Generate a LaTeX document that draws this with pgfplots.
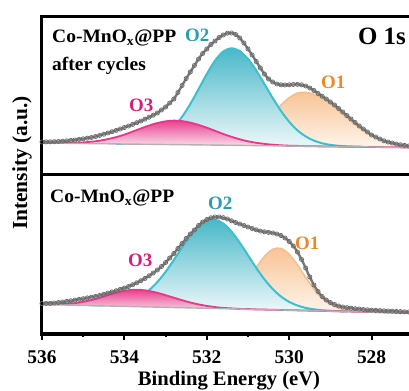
\documentclass[border=0pt]{standalone}
\usepackage{fontspec}
\setmainfont{Liberation Serif}
\usepackage{graphicx}
\usepackage{pgfplots}
\pgfplotsset{compat=1.18}
\usepackage{pgfplotstable}

\definecolor{cOone}{HTML}{F3BE8E}
\definecolor{cOonef}{HTML}{F8C496}
\definecolor{cOoneb}{HTML}{FEF5EC}
\definecolor{cOtwo}{HTML}{3DBFCF}
\definecolor{cOtwof}{HTML}{4AB8C8}
\definecolor{cOtwob}{HTML}{EEF8FA}
\definecolor{cOthree}{HTML}{E6378B}
\definecolor{cOthreef}{HTML}{E8428E}
\definecolor{cOthreeb}{HTML}{FCE8F1}
\definecolor{tOone}{HTML}{E8892B}
\definecolor{tOtwo}{HTML}{2A9DB0}
\definecolor{tOthree}{HTML}{D21F7A}
\definecolor{env}{HTML}{7A7A7A}

% ---------------- upper panel (after cycles) ----------------
\pgfplotstableread{
x y
536.0 33.0
535.9 33.1
535.8 33.2
535.7 33.3
535.6 33.5
535.5 33.8
535.4 34.2
535.3 34.6
535.2 35.0
535.1 35.6
535.0 36.2
534.9 36.8
534.8 37.5
534.7 38.5
534.6 39.6
534.5 40.8
534.4 42.0
534.3 43.3
534.2 44.6
534.1 46.0
534.0 47.5
533.9 49.0
533.8 50.6
533.7 52.3
533.6 54.0
533.5 55.8
533.4 57.8
533.3 59.8
533.2 62.0
533.1 65.0
533.0 68.0
532.9 72.0
532.8 76.0
532.7 82.5
532.6 89.5
532.5 96.5
532.4 103.0
532.3 109.5
532.2 116.0
532.1 121.5
532.0 126.0
531.9 130.5
531.8 134.0
531.7 137.5
531.6 140.0
531.5 141.8
531.4 142.0
531.3 140.5
531.2 137.0
531.1 132.0
531.0 126.0
530.9 120.0
530.8 113.5
530.7 107.0
530.6 101.0
530.5 96.0
530.4 93.0
530.3 91.0
530.2 90.2
530.1 90.0
530.0 90.2
529.9 90.5
529.8 90.6
529.7 90.2
529.6 89.0
529.5 87.0
529.4 84.5
529.3 81.5
529.2 78.8
529.1 76.0
529.0 73.0
528.9 70.0
528.8 66.5
528.7 63.0
528.6 59.5
528.5 56.0
528.4 52.5
528.3 49.0
528.2 46.0
528.1 43.0
528.0 40.0
527.9 38.0
527.8 36.0
527.7 34.2
527.6 33.0
527.5 32.0
527.4 31.0
527.3 30.2
527.2 29.6
527.1 29.0
527.0 28.6
}\uEnv

\pgfplotstableread{
x y
536.0 32.0
535.8 32.0
535.6 32.0
535.4 32.0
535.2 32.2
535.0 32.6
534.8 33.3
534.6 34.3
534.4 35.9
534.2 37.9
534.0 40.4
533.8 43.4
533.6 46.5
533.4 49.5
533.2 52.0
533.0 53.7
532.8 54.4
532.6 53.9
532.4 52.4
532.2 50.1
532.0 47.3
531.8 44.2
531.6 41.0
531.4 38.2
531.2 35.7
531.0 33.7
530.8 32.2
530.6 31.1
530.4 30.3
530.2 29.7
530.0 29.3
529.8 29.1
529.6 28.9
529.4 28.7
526.6 27.3
}\uOthree

\pgfplotstableread{
x y
534.2 31.1
534.0 31.3
533.8 31.6
533.6 32.3
533.4 33.7
533.2 36.5
533.0 41.1
532.8 48.2
532.6 58.2
532.4 71.0
532.2 85.8
532.0 101.0
531.8 114.4
531.6 123.5
531.4 126.7
531.2 123.9
531.0 116.1
530.8 104.6
530.6 90.9
530.4 77.0
530.2 64.1
530.0 53.2
529.8 44.7
529.6 38.6
529.4 34.4
529.2 31.7
529.0 30.1
528.8 29.2
528.6 28.7
528.4 28.4
528.2 28.1
}\uOtwo

\pgfplotstableread{
x y
532.0 30.3
531.8 30.5
531.6 31.2
531.4 32.6
531.2 35.1
531.0 39.0
530.8 44.8
530.6 52.3
530.4 61.0
530.2 69.9
530.0 77.3
529.8 81.9
529.6 82.7
529.4 80.7
529.2 76.6
529.0 70.9
528.8 64.2
528.6 57.3
528.4 50.6
528.2 44.7
528.0 39.7
527.8 35.8
527.6 32.9
527.4 30.9
527.2 29.5
527.0 28.6
526.8 28.0
526.6 27.6
}\uOone

\pgfplotstableread{
x y
536.0 32.0
526.6 27.3
}\uBase

% ---------------- lower panel (pristine) ----------------
\pgfplotstableread{
x y
536.0 30.5
535.9 30.6
535.8 30.7
535.7 31.0
535.6 31.5
535.5 32.0
535.4 32.6
535.3 33.2
535.2 33.9
535.1 34.6
535.0 35.3
534.9 36.1
534.8 36.8
534.7 37.6
534.6 38.6
534.5 39.7
534.4 40.9
534.3 42.1
534.2 43.3
534.1 44.6
534.0 46.0
533.9 47.5
533.8 49.3
533.7 51.2
533.6 53.3
533.5 55.6
533.4 58.2
533.3 61.0
533.2 64.0
533.1 67.5
533.0 71.5
532.9 76.0
532.8 80.5
532.7 85.5
532.6 90.5
532.5 95.5
532.4 100.0
532.3 104.0
532.2 108.5
532.1 112.0
532.0 114.5
531.9 116.2
531.8 117.0
531.7 117.0
531.6 116.3
531.5 115.0
531.4 113.2
531.3 111.5
531.2 110.0
531.1 108.5
531.0 107.0
530.9 105.5
530.8 104.2
530.7 103.0
530.6 102.2
530.5 101.6
530.4 101.0
530.3 100.0
530.2 98.5
530.1 96.0
530.0 92.5
529.9 88.0
529.8 82.0
529.7 74.5
529.6 66.0
529.5 57.0
529.4 49.0
529.3 42.5
529.2 37.5
529.1 34.0
529.0 31.5
528.9 29.5
528.8 28.0
528.7 27.0
528.6 26.3
528.5 25.8
528.4 25.3
528.3 24.9
528.2 24.5
528.1 24.2
528.0 23.9
527.9 23.6
527.8 23.4
527.7 23.2
527.6 23.0
527.5 22.8
527.4 22.6
527.3 22.4
527.2 22.2
527.1 22.0
527.0 21.8
}\lEnv

\pgfplotstableread{
x y
536.0 29.6
535.8 29.6
535.6 29.8
535.4 30.2
535.2 30.9
535.0 32.2
534.8 34.0
534.6 36.2
534.4 38.9
534.2 41.3
534.0 43.2
533.8 44.2
533.6 44.1
533.4 43.0
533.2 41.2
533.0 38.8
532.8 36.3
532.6 33.8
532.4 31.5
532.2 29.6
532.0 28.1
531.8 26.9
531.6 26.1
531.4 25.6
531.2 25.1
531.0 24.9
530.8 24.6
526.6 20.6
}\lOthree

\pgfplotstableread{
x y
534.8 28.5
534.6 28.6
534.4 29.0
534.2 29.7
534.0 31.2
533.8 33.8
533.6 37.9
533.4 43.9
533.2 52.0
533.0 62.2
532.8 74.1
532.6 86.6
532.4 98.3
532.2 107.7
532.0 113.3
531.8 114.3
531.6 110.5
531.4 102.5
531.2 91.3
531.0 78.8
530.8 66.1
530.6 54.6
530.4 45.0
530.2 37.5
530.0 32.1
529.8 28.5
529.6 26.1
529.4 24.7
529.2 23.8
529.0 23.2
528.8 22.8
528.6 22.5
}\lOtwo

\pgfplotstableread{
x y
532.2 26.3
532.0 26.7
531.8 27.9
531.6 30.6
531.4 35.6
531.2 43.6
531.0 54.4
530.8 66.6
530.6 77.7
530.4 84.8
530.2 85.6
530.0 79.8
529.8 69.2
529.6 56.6
529.4 45.0
529.2 35.7
529.0 29.5
528.8 25.8
528.6 23.8
528.4 22.8
528.2 22.3
528.0 21.9
}\lOone

\pgfplotstableread{
x y
536.0 29.5
526.6 20.6
}\lBase

\pgfplotsset{
  panel/.style={
    scale only axis, width=370.8bp, x dir=reverse,
    xmin=527, xmax=536, ymin=0, anchor=south west,
    axis line style={line width=3bp, black},
    ytick=\empty, clip=true, axis on top,
  },
  envline/.style={env, line width=2.4bp, smooth},
  envmarks/.style={only marks, mark=o, mark size=2.1bp,
    mark options={draw=env!85!black, fill=white!85!gray, line width=0.7bp}},
}

\newcommand{\wide}[1]{\scalebox{1.03}[1]{#1}}

\begin{document}
\begin{tikzpicture}
% upper panel
\begin{axis}[panel, at={(42bp,216bp)}, height=158bp, ymax=158, xtick=\empty]
\addplot[draw=none, top color=cOonef, bottom color=cOoneb] table {\uOone} -- cycle;
\addplot[cOone, line width=1.5bp, smooth] table {\uOone};
\addplot[draw=none, top color=cOtwof, bottom color=cOtwob] table {\uOtwo} -- cycle;
\addplot[cOtwo, line width=2bp, smooth] table {\uOtwo};
\addplot[draw=none, top color=cOthreef, bottom color=cOthreeb] table {\uOthree} -- cycle;
\addplot[cOthree, line width=1.8bp, smooth] table {\uOthree};
\addplot[gray!60, line width=1.4bp] table {\uBase};
\addplot[envline] table {\uEnv};
\addplot[envmarks] table {\uEnv};
\end{axis}
% lower panel
\begin{axis}[panel, at={(42bp,57bp)}, height=159bp, ymax=159,
  xtick={528,530,532,534,536}, minor xtick={529,531,533,535},
  xticklabel={\textbf{\pgfmathprintnumber[assume math mode=true]{\tick}}},
  xtick pos=bottom, tick align=outside,
  major tick length=6bp, minor tick length=3bp,
  tick style={line width=2bp, black},
  xticklabel style={font=\fontsize{19.5}{19.5}\selectfont\bfseries, yshift=-7bp}]
\addplot[draw=none, top color=cOonef, bottom color=cOoneb] table {\lOone} -- cycle;
\addplot[cOone, line width=1.5bp, smooth] table {\lOone};
\addplot[draw=none, top color=cOtwof, bottom color=cOtwob] table {\lOtwo} -- cycle;
\addplot[cOtwo, line width=2bp, smooth] table {\lOtwo};
\addplot[draw=none, top color=cOthreef, bottom color=cOthreeb] table {\lOthree} -- cycle;
\addplot[cOthree, line width=1.8bp, smooth] table {\lOthree};
\addplot[gray!60, line width=1.4bp] table {\lBase};
\addplot[envline] table {\lEnv};
\addplot[envmarks] table {\lEnv};
\end{axis}

% texts
\node[anchor=base west, inner sep=0, font=\bfseries\fontsize{19}{19}\selectfont] at (52bp,348bp) {\wide{Co-MnO\textsubscript{x}@PP}};
\node[anchor=base west, inner sep=0, font=\bfseries\fontsize{19}{19}\selectfont] at (52bp,320bp) {\wide{after cycles}};
\node[anchor=base east, inner sep=0, font=\bfseries\fontsize{25}{25}\selectfont] at (406bp,346bp) {O 1s};
\node[anchor=base west, inner sep=0, text=tOtwo, font=\bfseries\fontsize{19}{19}\selectfont] at (185bp,349bp) {O2};
\node[anchor=base west, inner sep=0, text=tOthree, font=\bfseries\fontsize{19}{19}\selectfont] at (129bp,279bp) {O3};
\node[anchor=base west, inner sep=0, text=tOone, font=\bfseries\fontsize{19}{19}\selectfont] at (321bp,302bp) {O1};

\node[anchor=base west, inner sep=0, font=\bfseries\fontsize{19}{19}\selectfont] at (50bp,188bp) {\wide{Co-MnO\textsubscript{x}@PP}};
\node[anchor=base west, inner sep=0, text=tOtwo, font=\bfseries\fontsize{19}{19}\selectfont] at (208bp,181bp) {O2};
\node[anchor=base west, inner sep=0, text=tOthree, font=\bfseries\fontsize{19}{19}\selectfont] at (128bp,124bp) {O3};
\node[anchor=base west, inner sep=0, text=tOone, font=\bfseries\fontsize{19}{19}\selectfont] at (295bp,141bp) {O1};

\node[anchor=base, inner sep=0, font=\bfseries\fontsize{20.7}{20.7}\selectfont] at (229bp,6bp) {Binding Energy (eV)};
\node[rotate=90, anchor=center, inner sep=0, font=\bfseries\fontsize{21.5}{21.5}\selectfont] at (22bp,228bp) {Intensity (a.u.)};

\pgfresetboundingbox
\path[use as bounding box] (0,0) rectangle (409bp,391bp);
\end{tikzpicture}
\end{document}
